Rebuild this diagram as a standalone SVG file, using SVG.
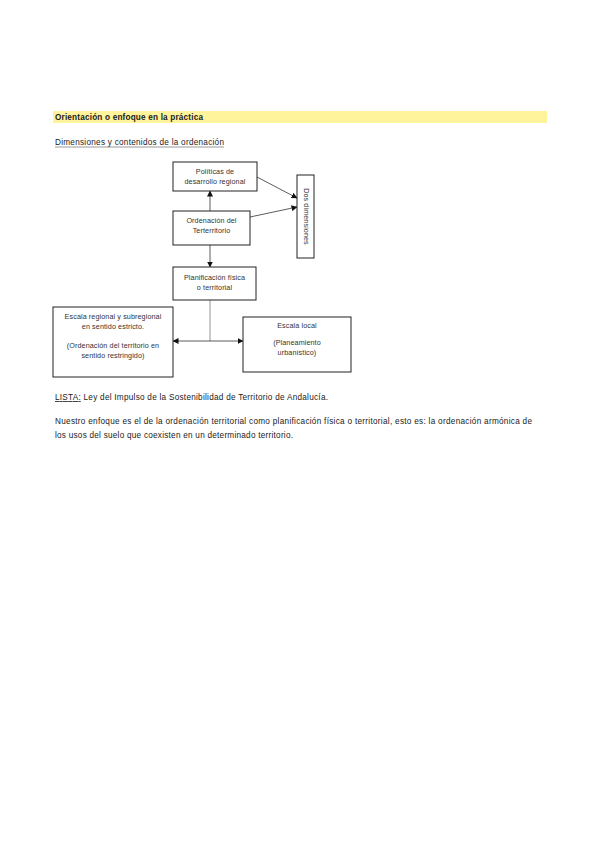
<svg xmlns="http://www.w3.org/2000/svg" width="599" height="848" viewBox="0 0 599 848">
<style>
text{font-family:"Liberation Sans","Open Sans",sans-serif;fill:#1a1a1a}
.b{font-size:8.2px}
.n{font-size:7.2px;letter-spacing:0.1px;fill:#333;text-anchor:middle}
.box{fill:#fff;stroke:#222;stroke-width:1}
.ln{stroke:#333;stroke-width:0.8;fill:none}
.lg{stroke:#777;stroke-width:0.8;fill:none}
</style>
<defs>
<marker id="ah" markerWidth="6" markerHeight="6" refX="5.5" refY="3" orient="auto" markerUnits="userSpaceOnUse">
<path d="M0,0 L6,3 L0,6 Z" fill="#111"/>
</marker>
</defs>
<rect width="599" height="848" fill="#fff"/>
<rect x="53" y="111" width="494" height="12" fill="#FFF39C"/>
<text class="b" x="55" y="120" font-weight="bold" textLength="148">Orientación o enfoque en la práctica</text>
<text class="b" x="55" y="145" textLength="169" fill="#333">Dimensiones y contenidos de la ordenación</text>
<line x1="55" y1="147" x2="224" y2="147" stroke="#555" stroke-width="0.6"/>

<g id="connectors">
<line class="ln" x1="210" y1="211" x2="210" y2="191" marker-end="url(#ah)"/>
<line class="ln" x1="210" y1="245" x2="210" y2="267" marker-end="url(#ah)"/>
<line class="ln" x1="257" y1="177" x2="297" y2="198" marker-end="url(#ah)"/>
<line class="ln" x1="250" y1="217" x2="297" y2="207" marker-end="url(#ah)"/>
<line class="lg" x1="210" y1="300" x2="210" y2="341"/>
<line class="ln" x1="210" y1="341" x2="173" y2="341" marker-end="url(#ah)"/>
<line class="ln" x1="210" y1="341" x2="243" y2="341" marker-end="url(#ah)"/>
</g>

<g id="n-politicas">
<rect class="box" x="173" y="162" width="84" height="29"/>
<text class="n" x="215" y="174">Políticas de</text>
<text class="n" x="215" y="184">desarrollo regional</text>
</g>
<g id="n-ordenacion">
<rect class="box" x="173" y="211" width="77" height="34"/>
<text class="n" x="211.5" y="222.5">Ordenación del</text>
<text class="n" x="211.5" y="233">Terterritorio</text>
</g>
<g id="n-dos">
<rect class="box" x="297" y="175" width="17" height="83"/>
<text class="n" transform="translate(303.5,216.5) rotate(90)">Dos dimensiones</text>
</g>
<g id="n-planificacion">
<rect class="box" x="173" y="267" width="83" height="33"/>
<text class="n" x="214.5" y="279.5">Planificación física</text>
<text class="n" x="214.5" y="290">o territorial</text>
</g>
<g id="n-regional">
<rect class="box" x="53" y="307" width="120" height="70"/>
<text class="n" x="113" y="318.5">Escala regional y subregional</text>
<text class="n" x="113" y="328.5">en sentido estricto.</text>
<text class="n" x="113" y="348">(Ordenación del territorio en</text>
<text class="n" x="113" y="358">sentido restringido)</text>
</g>
<g id="n-local">
<rect class="box" x="243" y="317" width="108" height="55"/>
<text class="n" x="297" y="327.5">Escala local</text>
<text class="n" x="297" y="345">(Planeamiento</text>
<text class="n" x="297" y="355">urbanístico)</text>
</g>

<text class="b" x="55" y="400" textLength="273"><tspan text-decoration="underline">LISTA:</tspan> Ley del Impulso de la Sostenibilidad de Territorio de Andalucía.</text>
<text class="b" x="55" y="424" textLength="477">Nuestro enfoque es el de la ordenación territorial como planificación física o territorial, esto es: la ordenación armónica de</text>
<text class="b" x="55" y="438" textLength="238">los usos del suelo que coexisten en un determinado territorio.</text>
</svg>
